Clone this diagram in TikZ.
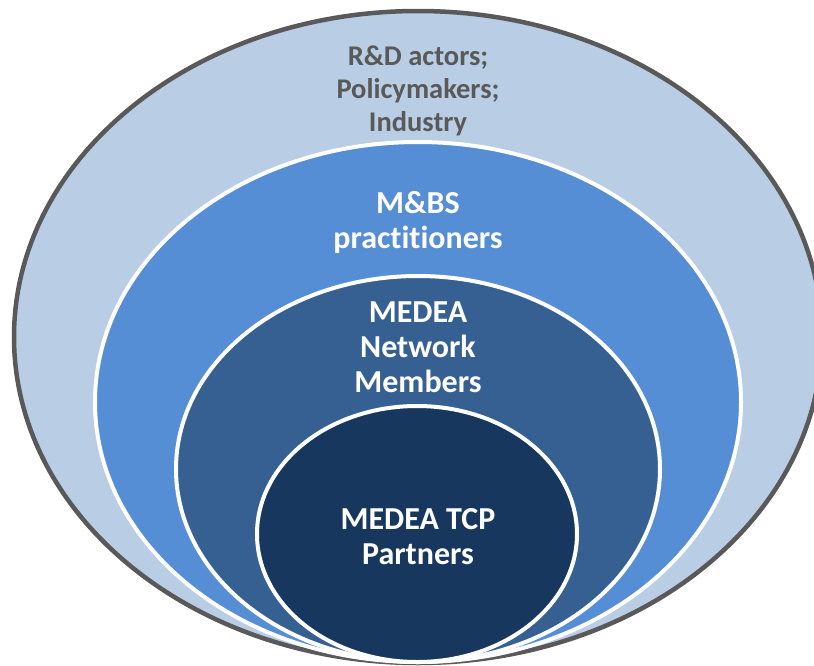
\documentclass[tikz,border=0pt]{standalone}
\usepackage{fontspec}
\setmainfont[Ligatures={NoCommon}]{Carlito}
\definecolor{ringA}{HTML}{B9CDE5}
\definecolor{ringB}{HTML}{558ED5}
\definecolor{ringC}{HTML}{376092}
\definecolor{ringD}{HTML}{17375E}
\definecolor{greytxt}{HTML}{595959}
\begin{document}
\begin{tikzpicture}[x=1pt,y=-1pt,
  ring/.style={draw=white,line width=4pt},
  outertxt/.style={align=center,text=greytxt,font=\fontsize{28.5}{33}\selectfont\bfseries,inner sep=0pt},
  innertxt/.style={align=center,text=white,font=\fontsize{32}{35}\selectfont\bfseries,inner sep=0pt}]
\useasboundingbox (0,0) rectangle (814,665);
\fill[white] (0,0) rectangle (814,665);
\draw[fill=ringA,draw=greytxt,line width=4.5pt] (418,337) ellipse [x radius=404,y radius=326];
\draw[ring,fill=ringB] (418,402) ellipse [x radius=323,y radius=260];
\draw[ring,fill=ringC] (418,469) ellipse [x radius=242,y radius=193];
\draw[ring,fill=ringD] (417,534) ellipse [x radius=160,y radius=128];
\node[outertxt] (stake) at (418,91) {R\&D actors;\\Policymakers;\\Industry};
\node[innertxt] (mbs) at (418,222) {M\&BS\\practitioners};
\node[innertxt] (net) at (418,347) {MEDEA\\Network\\Members};
\node[innertxt] (tcp) at (418,537) {MEDEA TCP\\Partners};
\end{tikzpicture}
\end{document}
